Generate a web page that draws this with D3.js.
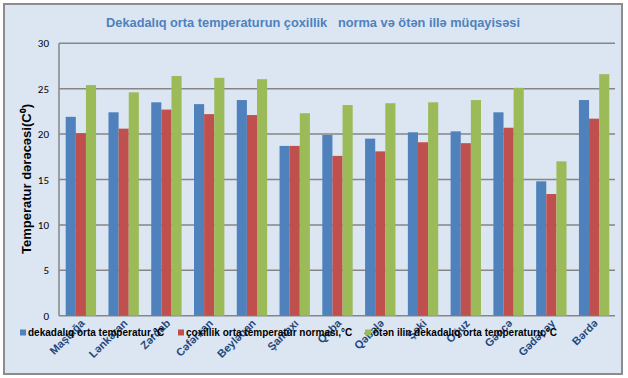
<!DOCTYPE html>
<html><head><meta charset="utf-8">
<script src="https://cdn.jsdelivr.net/npm/d3@7"></script>
<style>html,body{margin:0;padding:0;background:#fff;}svg{display:block;}</style>
</head><body>
<script>
const categories = ["Maştağa","Lənkəran","Zərdab","Cəfərxan","Beyləqan","Şamaxı","Quba","Qəbələ","Şəki","Oğuz","Gəncə","Gədəbəy","Bərdə"];
const seriesNames = ["dekadalıq orta temperatur,°C","çoxillik orta temperatur norması,°C","ötən ilin dekadalıq orta temperaturu,°C"];
const decadal = [21.9,22.4,23.5,23.3,23.75,18.7,19.9,19.5,20.2,20.3,22.4,14.8,23.75];
const norm    = [20.1,20.6,22.7,22.2,22.1,18.7,17.6,18.1,19.1,19.0,20.7,13.4,21.7];
const lastYear= [25.4,24.6,26.4,26.2,26.05,22.3,23.2,23.4,23.5,23.75,25.1,17.0,26.6];
const yTicks = [0,5,10,15,20,25,30];
const colors = ["#4F81BD","#C0504D","#9BBB59"];

const W=628,H=378;
const svg=d3.select("body").append("svg").attr("width",W).attr("height",H);
svg.append("rect").attr("x",4).attr("y",4).attr("width",618).attr("height",370)
  .attr("fill","#DCE6F2").attr("stroke","#8C8C8C").attr("stroke-width",2);

const m={left:59,right:615,top:43.3,bottom:315.7};
const x=d3.scaleBand().domain(categories).range([m.left,m.right]).padding(0);
const y=d3.scaleLinear().domain([0,30]).range([m.bottom,m.top]);
const groupW=x.bandwidth()*0.71;
const xs=d3.scaleBand().domain([0,1,2]).range([0,groupW]).padding(0);

// gridlines
svg.append("g").selectAll("line").data(yTicks).join("line")
  .attr("x1",m.left).attr("x2",m.right).attr("y1",d=>y(d)).attr("y2",d=>y(d))
  .attr("stroke","#868686").attr("stroke-width",1.5);
svg.append("line").attr("x1",m.left).attr("x2",m.left).attr("y1",m.top).attr("y2",m.bottom)
  .attr("stroke","#868686").attr("stroke-width",1.5);

// y axis labels
const yAxis=d3.axisLeft(y).tickValues(yTicks).tickSize(0).tickPadding(10);
const ga=svg.append("g").attr("transform",`translate(${m.left},0)`).call(yAxis);
ga.select(".domain").remove();
ga.selectAll("text").attr("font-family","Carlito, 'Liberation Sans', Arial, sans-serif").attr("font-size",11).attr("fill","#000");

const data=[decadal,norm,lastYear];
categories.forEach((c,i)=>{
  const g=svg.append("g").attr("transform",`translate(${x(c)+(x.bandwidth()-groupW)/2+0.5},0)`);
  g.selectAll("rect").data([0,1,2]).join("rect")
    .attr("x",k=>xs(k)).attr("width",xs.bandwidth())
    .attr("y",k=>y(data[k][i])).attr("height",k=>y(0)-y(data[k][i]))
    .attr("fill",k=>colors[k]);
});

// title
svg.append("text").attr("x",313).attr("y",27).attr("text-anchor","middle")
  .attr("font-family","'Liberation Sans', Arial, sans-serif").attr("font-weight","bold")
  .attr("font-size",12.8).attr("fill","#4F81BD").attr("xml:space","preserve")
  .text("Dekadalıq orta temperaturun çoxillik   norma və ötən illə müqayisəsi");

// y title
svg.append("text").attr("transform","translate(31,179) rotate(-90)").attr("text-anchor","middle")
  .attr("font-family","'Liberation Sans', Arial, sans-serif").attr("font-weight","bold")
  .attr("font-size",13).attr("fill","#000").text("Temperatur dərəcəsi(C⁰)");

// x labels
svg.append("g").selectAll("text").data(categories).join("text")
  .attr("transform",d=>`translate(${x(d)+x.bandwidth()/2+5},${324}) rotate(-45)`)
  .attr("text-anchor","end")
  .attr("font-family","'Liberation Sans', Arial, sans-serif").attr("font-weight","bold")
  .attr("font-size",11).attr("fill","#1F497D").text(d=>d);

// legend (drawn over the category labels, as in the reference)
const legX=[20,178,365];
seriesNames.forEach((s,k)=>{
  svg.append("rect").attr("x",legX[k]).attr("y",329.5).attr("width",6).attr("height",6).attr("fill",colors[k]);
  svg.append("text").attr("x",legX[k]+8).attr("y",336)
    .attr("font-family","'Liberation Sans', Arial, sans-serif").attr("font-weight","bold")
    .attr("font-size",10).attr("fill","#000").text(s);
});
</script>
</body></html>
